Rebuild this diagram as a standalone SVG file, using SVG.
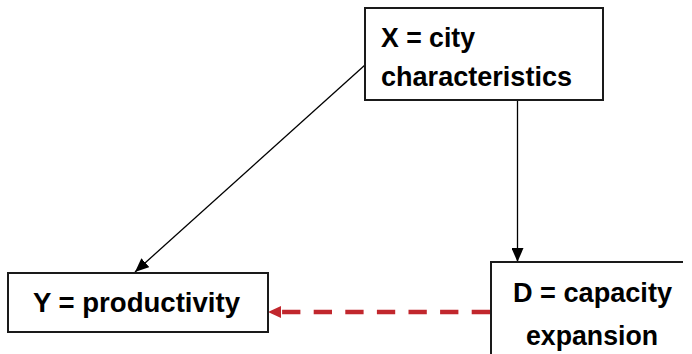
<svg xmlns="http://www.w3.org/2000/svg" width="692" height="354" viewBox="0 0 692 354">
  <style>
    .box { fill: #ffffff; stroke: #1a1a1a; stroke-width: 2; }
    .lbl { font-family: "Liberation Sans", Arial, sans-serif; font-weight: bold; font-size: 28px; fill: #000000; }
    .edge { stroke: #000000; stroke-width: 1.3; fill: none; }
    .dash { stroke: #C1272D; stroke-width: 4.5; fill: none; stroke-dasharray: 18.3 13.3; }
  </style>
  <defs>
    <marker id="ab" viewBox="0 0 14 12" refX="14" refY="6" markerWidth="14" markerHeight="12" markerUnits="userSpaceOnUse" orient="auto">
      <path d="M0,0 L14,6 L0,12 Z" fill="#000000"/>
    </marker>
  </defs>
  <rect width="692" height="354" fill="#ffffff"/>
  <g id="connectors">
    <line class="edge" x1="365" y1="65" x2="135" y2="272" marker-end="url(#ab)"/>
    <line class="edge" x1="517.5" y1="100" x2="517.5" y2="262" marker-end="url(#ab)"/>
    <line class="dash" x1="490" y1="312" x2="281" y2="312"/>
    <path d="M281,306 L268,312 L281,318 Z" fill="#C1272D"/>
  </g>
  <g id="node-x">
    <rect class="box" x="365" y="8" width="238" height="92"/>
    <text class="lbl" x="381" y="47" textLength="94" lengthAdjust="spacingAndGlyphs">X = city</text>
    <text class="lbl" x="381" y="86" textLength="191" lengthAdjust="spacingAndGlyphs">characteristics</text>
  </g>
  <g id="node-y">
    <rect class="box" x="8" y="273" width="260" height="59"/>
    <text class="lbl" x="33" y="312" textLength="207" lengthAdjust="spacingAndGlyphs">Y = productivity</text>
  </g>
  <g id="node-d">
    <rect x="491" y="262" width="201" height="100" fill="#ffffff"/>
    <path d="M683,262 H491 V360" fill="none" stroke="#1a1a1a" stroke-width="2"/>
    <text class="lbl" x="513" y="302" textLength="159" lengthAdjust="spacingAndGlyphs">D = capacity</text>
    <text class="lbl" x="526" y="345" textLength="132" lengthAdjust="spacingAndGlyphs">expansion</text>
  </g>
</svg>
